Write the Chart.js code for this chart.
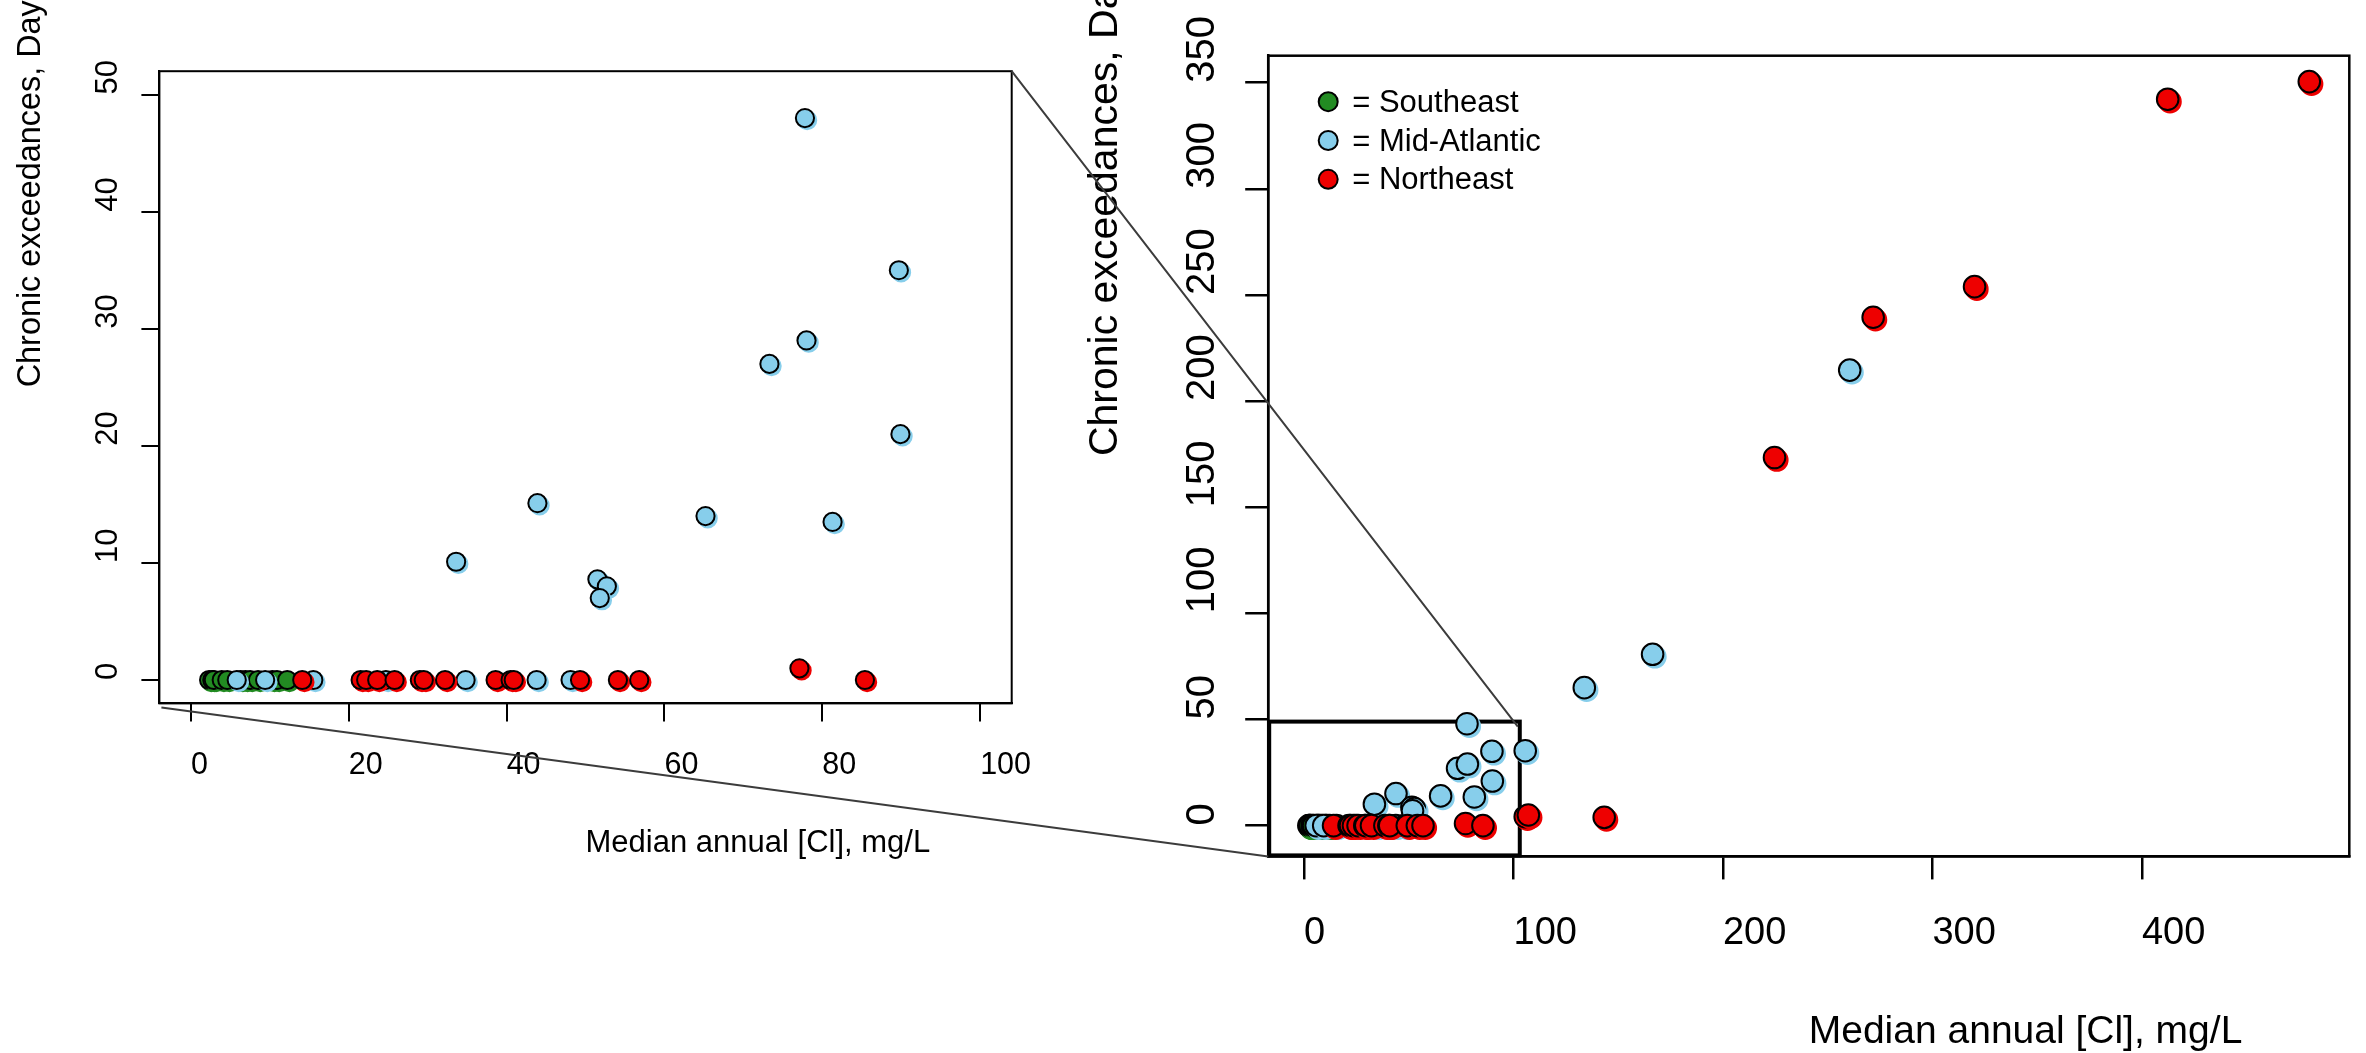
<!DOCTYPE html>
<html><head><meta charset="utf-8">
<script src="https://cdn.jsdelivr.net/npm/chart.js@4.4.0/dist/chart.umd.min.js"></script>
<style>
html,body{margin:0;padding:0;background:#fff;}
#wrap{position:relative;width:2366px;height:1053px;overflow:hidden;background:#fff;}
canvas{position:absolute;left:0;top:0;}
</style></head><body>
<div id="wrap">
<canvas id="left" width="2366" height="1053" style="width:2366px;height:1053px"></canvas>
<canvas id="right" width="2366" height="1053" style="width:2366px;height:1053px"></canvas>
</div>
<script>
// ---- data ----
const regionNames = ['Southeast', 'Mid-Atlantic', 'Northeast'];
const seX = [2.3, 2.7, 2.9, 3.9, 4.6, 6.3, 6.9, 7.5, 8.5, 10.3, 10.9, 12.2];
const seY = [0, 0, 0, 0, 0, 0, 0, 0, 0, 0, 0, 0];
const maX = [5.8, 9.4, 15.5, 24.7, 34.8, 43.8, 48.1, 33.6, 43.9, 51.5, 52.7, 51.8, 65.2, 81.3, 73.3, 77.8, 78.0, 89.7, 89.9, 105.6, 133.8, 166.4, 260.5];
const maY = [0, 0, 0, 0, 0, 0, 0, 10.1, 15.1, 8.6, 8.0, 7.0, 14.0, 13.5, 27.0, 48.0, 29.0, 35.0, 21.0, 35.3, 65.0, 80.7, 214.6];
const neX = [14.1, 21.5, 22.2, 23.6, 25.8, 29.0, 29.5, 32.2, 38.6, 40.5, 40.9, 49.3, 54.1, 56.8, 77.1, 85.4, 105.6, 107.1, 143.3, 224.6, 271.7, 320.1, 412.3, 479.9];
const neY = [0, 0, 0, 0, 0, 0, 0, 0, 0, 0, 0, 0, 0, 0, 1, 0, 4.2, 5.0, 3.9, 173.4, 239.5, 253.9, 342.2, 350.5];

const insetXTicks = [0, 20, 40, 60, 80, 100];
const insetYTicks = [0, 10, 20, 30, 40, 50];
const mainXTicks = [0, 100, 200, 300, 400];
const mainYTicks = [0, 50, 100, 150, 200, 250, 300, 350];
const insetXRange = [-4, 104];
const insetYRange = [-2, 52];
const mainXRange = [-17.1, 499];
const mainYRange = [-14.5, 362.7];
const zoomXMax = 103;
const zoomYMax = 49;
const xTitleText = 'Median annual [Cl], mg/L';
const yTitleText = 'Chronic exceedances, Days';

// ---- styling ----
const COLORS = ['#228B22', '#87CEEB', '#EE0000'];
const FONT = '"Liberation Sans", Arial, Helvetica, sans-serif';

function makeDatasets(radius) {
  const xs = [seX, maX, neX], ys = [seY, maY, neY];
  return regionNames.map((name, i) => ({
    label: name,
    data: xs[i].map((x, j) => ({ x: x, y: ys[i][j] })),
    backgroundColor: COLORS[i],
    borderColor: '#000',
    borderWidth: 2,
    pointRadius: radius,
    pointHoverRadius: radius,
    order: 3 - i,
    clip: 0
  }));
}

function axis(range, ticks, tl, lw, size, horizontal) {
  return {
    type: 'linear', min: range[0], max: range[1],
    afterBuildTicks: a => { a.ticks = ticks.map(v => ({ value: v })); },
    afterFit: s => { if (horizontal) s.height = size; else s.width = size; },
    ticks: { display: false },
    grid: { display: true, drawOnChartArea: false, drawTicks: true, tickLength: tl, color: '#000', lineWidth: lw },
    border: { display: true, color: '#000', width: lw },
    title: { display: false }
  };
}

let leftChart = null;

function decor(st) {
  return {
    id: 'decor',
    beforeDatasetsDraw(chart) {
      if (!st.zoom) return;
      const ctx = chart.ctx, ca = chart.chartArea;
      const xr = chart.scales.x.getPixelForValue(zoomXMax);
      const yt = chart.scales.y.getPixelForValue(zoomYMax);
      ctx.save();
      ctx.strokeStyle = '#000';
      ctx.lineWidth = 4;
      ctx.strokeRect(ca.left + 1, yt, xr - ca.left - 1, ca.bottom - yt - 1);
      ctx.restore();
    },
    beforeDatasetDraw(chart, args) {
      const ctx = chart.ctx;
      const ds = chart.data.datasets[args.index];
      ctx.save();
      ctx.shadowColor = ds.backgroundColor;
      ctx.shadowOffsetX = st.shadow[0];
      ctx.shadowOffsetY = st.shadow[1];
      ctx.shadowBlur = 0;
    },
    afterDatasetDraw(chart) {
      chart.ctx.restore();
    },
    afterDraw(chart) {
      const ctx = chart.ctx, ca = chart.chartArea;
      const xs = chart.scales.x, ys = chart.scales.y;
      ctx.save();
      // box
      ctx.strokeStyle = '#000';
      ctx.lineWidth = st.box;
      ctx.strokeRect(ca.left, ca.top, ca.right - ca.left, ca.bottom - ca.top);
      ctx.fillStyle = '#000';
      ctx.textBaseline = 'alphabetic';
      ctx.textAlign = 'left';
      // x tick labels
      ctx.font = st.xLab.size + 'px ' + FONT;
      xs.ticks.forEach(t => {
        ctx.fillText(String(t.value), xs.getPixelForValue(t.value), ca.bottom + st.xLab.base);
      });
      // y tick labels (rotated)
      ctx.font = st.yLab.size + 'px ' + FONT;
      ys.ticks.forEach(t => {
        ctx.save();
        ctx.translate(ca.left - st.yLab.base, ys.getPixelForValue(t.value));
        ctx.rotate(-Math.PI / 2);
        ctx.fillText(String(t.value), 0, 0);
        ctx.restore();
      });
      // axis titles
      ctx.font = st.xTitle.size + 'px ' + FONT;
      ctx.fillText(xTitleText, (ca.left + ca.right) / 2, ca.bottom + st.xTitle.base);
      ctx.save();
      ctx.font = st.yTitle.size + 'px ' + FONT;
      ctx.translate(ca.left - st.yTitle.base, (ca.top + ca.bottom) / 2);
      ctx.rotate(-Math.PI / 2);
      ctx.fillText(yTitleText, 0, 0);
      ctx.restore();
      // legend
      if (st.legend) {
        ctx.font = '31px ' + FONT;
        regionNames.forEach((n, i) => {
          const by = ca.top + 56 + i * 38.8;
          ctx.beginPath();
          ctx.arc(ca.left + 60, by - 10, 9.5, 0, Math.PI * 2);
          ctx.fillStyle = COLORS[i];
          ctx.fill();
          ctx.lineWidth = 2;
          ctx.strokeStyle = '#000';
          ctx.stroke();
          ctx.fillStyle = '#000';
          ctx.fillText('= ' + n, ca.left + 84, by);
        });
      }
      // connector lines to the inset
      if (st.zoom && leftChart) {
        const L = leftChart.chartArea;
        const xr = xs.getPixelForValue(zoomXMax);
        const yt = ys.getPixelForValue(zoomYMax);
        ctx.strokeStyle = '#3c3c3c';
        ctx.lineWidth = 2;
        ctx.beginPath();
        ctx.moveTo(L.right, L.top);
        ctx.lineTo(xr - 2, yt + 5);
        ctx.moveTo(L.left + 2, L.bottom + 4);
        ctx.lineTo(ca.left, ca.bottom);
        ctx.stroke();
      }
      ctx.restore();
    }
  };
}

const leftStyle = {
  shadow: [2.2, 2.2], box: 2,
  xLab: { size: 30.5, base: 70.6 }, yLab: { size: 31, base: 42.7 },
  xTitle: { size: 31, base: 148.6 }, yTitle: { size: 32.4, base: 119.4 }
};
const rightStyle = {
  shadow: [2.3, 2.5], box: 2.5,
  xLab: { size: 38, base: 87.6 }, yLab: { size: 40, base: 54.2 },
  xTitle: { size: 39, base: 186.9 }, yTitle: { size: 41, base: 150.9 },
  legend: true, zoom: true
};

leftChart = new Chart(document.getElementById('left'), {
  type: 'scatter',
  data: { datasets: makeDatasets(9.1) },
  options: {
    responsive: false, animation: false, events: [], devicePixelRatio: 1,
    layout: { padding: { left: 129.4, top: 71.2, right: 1354.3, bottom: 319.6 } },
    plugins: { legend: { display: false }, tooltip: { enabled: false } },
    scales: {
      x: axis(insetXRange, insetXTicks, 18, 2, 30, true),
      y: axis(insetYRange, insetYTicks, 18, 2, 30, false)
    }
  },
  plugins: [decor(leftStyle)]
});

const rightChart = new Chart(document.getElementById('right'), {
  type: 'scatter',
  data: { datasets: makeDatasets(10.8) },
  options: {
    responsive: false, animation: false, events: [], devicePixelRatio: 1,
    layout: { padding: { left: 1238.2, top: 55.7, right: 16.7, bottom: 166.6 } },
    plugins: { legend: { display: false }, tooltip: { enabled: false } },
    scales: {
      x: axis(mainXRange, mainXTicks, 23, 2.5, 30, true),
      y: axis(mainYRange, mainYTicks, 23, 2.5, 30, false)
    }
  },
  plugins: [decor(rightStyle)]
});
</script>
</body></html>
